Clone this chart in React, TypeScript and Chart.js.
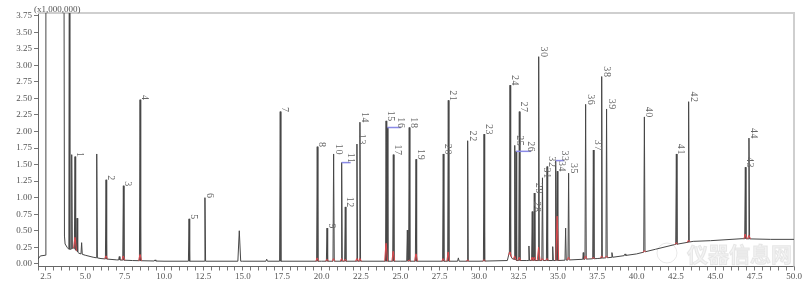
import React, { useEffect, useRef } from "react";
import { Chart, registerables } from "chart.js";

Chart.register(...registerables);

// ---- data (retention time in min, intensity in x1,000,000) ----
const solventTrace: [number, number][] = [
  [2.0, 0.07], [2.15, 0.12], [2.47, 0.13], [2.5, 6.0], [3.64, 6.0], [3.68, 0.42],
  [3.72, 0.3], [3.85, 0.25], [3.96, 0.22], [3.99, 6.0], [4.02, 0.22],
];

const baselineTimes = [4.05, 4.25, 4.6, 5.0, 5.5, 6.0, 7.0, 8.0, 10.0, 15.0, 20.0, 25.0, 30.0, 31.8, 31.92, 32.1, 32.4, 33.0, 35.0, 37.5, 38.5, 40.0, 41.2, 42.4, 43.6, 44.7, 46.7, 48.5, 50.0];
const baselineValues = [0.22, 0.24, 0.16, 0.13, 0.1, 0.08, 0.06, 0.05, 0.04, 0.04, 0.04, 0.04, 0.04, 0.05, 0.17, 0.08, 0.05, 0.05, 0.05, 0.08, 0.1, 0.15, 0.22, 0.29, 0.34, 0.35, 0.38, 0.37, 0.37];

const peakTimes = [4.14, 4.35, 4.48, 4.77, 5.73, 6.32, 7.16, 7.42, 8.48, 9.43, 11.59, 12.6, 14.78, 16.52, 17.38, 19.73, 20.35, 20.77, 21.28, 21.51, 22.25, 22.44, 24.1, 24.18, 24.56, 25.45, 25.57, 26.0, 27.73, 28.05, 28.69, 29.28, 30.32, 31.97, 32.27, 32.35, 32.56, 33.17, 33.38, 33.51, 33.79, 34.03, 34.32, 34.68, 34.87, 34.97, 35.5, 35.69, 36.62, 36.77, 37.26, 37.79, 38.1, 38.44, 39.27, 40.5, 42.53, 43.31, 46.91, 47.14];
const peakHeights = [1.65, 1.62, 0.69, 0.32, 1.66, 1.27, 0.11, 1.18, 2.48, 0.06, 0.68, 1.0, 0.5, 0.07, 2.3, 1.77, 0.54, 1.66, 1.53, 0.86, 1.81, 2.14, 2.16, 2.06, 1.65, 0.51, 2.06, 1.58, 1.66, 2.47, 0.09, 1.86, 1.96, 2.7, 1.79, 1.7, 2.3, 0.27, 0.79, 1.07, 3.13, 1.3, 1.47, 0.26, 1.56, 1.4, 0.54, 1.37, 0.17, 2.41, 1.72, 2.83, 2.34, 0.17, 0.15, 2.22, 1.66, 2.45, 1.46, 1.9];
const peakHalfWidths = [0.04, 0.04, 0.04, 0.04, 0.04, 0.04, 0.04, 0.04, 0.04, 0.05, 0.04, 0.04, 0.09, 0.05, 0.04, 0.04, 0.04, 0.04, 0.04, 0.04, 0.04, 0.04, 0.035, 0.035, 0.04, 0.04, 0.04, 0.04, 0.04, 0.04, 0.05, 0.04, 0.04, 0.04, 0.035, 0.035, 0.04, 0.04, 0.04, 0.04, 0.04, 0.04, 0.04, 0.04, 0.035, 0.035, 0.04, 0.04, 0.03, 0.04, 0.04, 0.04, 0.04, 0.05, 0.05, 0.04, 0.04, 0.04, 0.04, 0.04];
const peakLabels = ["", "1", "", "", "", "2", "", "3", "4", "", "5", "6", "", "", "7", "8", "9", "10", "11", "12", "13", "14", "15", "16", "17", "", "18", "19", "20", "21", "", "22", "23", "24", "25", "26", "27", "", "28", "29", "30", "31", "32", "", "33", "34", "", "35", "", "36", "37", "38", "39", "", "", "40", "41", "42", "43", "44"];
// label offset (min) for bracketed labels
const labelShifts = [0, 0, 0, 0, 0, 0, 0, 0, 0, 0, 0, 0, 0, 0, 0, 0, 0, 0, 0.57, 0, 0, 0, 0, 0.85, 0, 0, 0, 0, 0, 0, 0, 0, 0, 0, 0, 0.95, 0, 0, 0, 0, 0, 0, 0, 0, 0.53, 0, 0, 0, 0, 0, 0, 0, 0, 0, 0, 0, 0, 0, 0, 0];
// top of red integrated area at the peak foot (0 = none)
const redTops = [0, 0.4, 0, 0, 0, 0.12, 0, 0.12, 0.14, 0, 0, 0, 0, 0, 0, 0.09, 0.07, 0.08, 0.08, 0.07, 0.08, 0.08, 0.31, 0, 0.19, 0, 0.06, 0.15, 0.08, 0.18, 0, 0.06, 0.06, 0.18, 0.12, 0, 0.1, 0, 0.1, 0.1, 0.25, 0.08, 0.08, 0, 0, 0.72, 0, 0.1, 0, 0.12, 0.1, 0.12, 0.12, 0, 0, 0.2, 0.32, 0.36, 0.45, 0.43];

const xTickLabels = [2.5, 5.0, 7.5, 10.0, 12.5, 15.0, 17.5, 20.0, 22.5, 25.0, 27.5, 30.0, 32.5, 35.0, 37.5, 40.0, 42.5, 45.0, 47.5, 50.0];
const yTickValues = [0, 0.25, 0.5, 0.75, 1.0, 1.25, 1.5, 1.75, 2.0, 2.25, 2.5, 2.75, 3.0, 3.25, 3.5, 3.75];

function baseAt(t: number): number {
  if (t <= baselineTimes[0]) return baselineValues[0];
  for (let i = 1; i < baselineTimes.length; i++) {
    if (t <= baselineTimes[i]) {
      const t0 = baselineTimes[i - 1], t1 = baselineTimes[i];
      const f = (t - t0) / (t1 - t0);
      return baselineValues[i - 1] + f * (baselineValues[i] - baselineValues[i - 1]);
    }
  }
  return baselineValues[baselineValues.length - 1];
}

function buildTrace() {
  const pts: { x: number; y: number }[] = solventTrace.map(([x, y]) => ({ x, y }));
  const inPeak = (t: number) =>
    peakTimes.some((p, i) => Math.abs(t - p) <= peakHalfWidths[i] + 0.005);
  baselineTimes.forEach((t, i) => {
    if (!inPeak(t)) pts.push({ x: t, y: baselineValues[i] });
  });
  peakTimes.forEach((t, i) => {
    const w = peakHalfWidths[i];
    pts.push({ x: t - w, y: baseAt(t - w) });
    pts.push({ x: t, y: peakHeights[i] });
    pts.push({ x: t + w, y: baseAt(t + w) });
  });
  pts.sort((a, b) => a.x - b.x);
  return pts;
}

function buildRed() {
  const pts: { x: number; y: number | null }[] = [];
  peakTimes.forEach((t, i) => {
    if (!redTops[i]) return;
    const w = 0.09;
    pts.push({ x: t - w, y: baseAt(t - w) });
    pts.push({ x: t - 0.01, y: redTops[i] });
    pts.push({ x: t + 0.01, y: redTops[i] });
    pts.push({ x: t + w, y: baseAt(t + w) });
    pts.push({ x: t + w + 0.01, y: null });
  });
  return pts;
}

const decorPlugin = {
  id: "decor",
  beforeDatasetsDraw(chart: any) {
    const { ctx, chartArea } = chart;
    ctx.save();
    // watermark
    ctx.font = "bold 21px 'Noto Sans CJK SC'";
    ctx.textBaseline = "alphabetic";
    ctx.fillStyle = "rgba(238,238,238,0.7)";
    ctx.strokeStyle = "rgba(218,218,218,0.6)";
    ctx.lineWidth = 1;
    ctx.fillText("仪器信息网", 687, 262);
    ctx.strokeText("仪器信息网", 687, 262);
    ctx.beginPath();
    ctx.arc(667, 253, 10, 0, Math.PI * 2);
    ctx.stroke();
    ctx.restore();
    // frame (top/right)
    ctx.save();
    ctx.strokeStyle = "#cfcfcf";
    ctx.lineWidth = 2;
    ctx.beginPath();
    ctx.moveTo(chartArea.left, chartArea.top);
    ctx.lineTo(chartArea.right, chartArea.top);
    ctx.lineTo(chartArea.right, chartArea.bottom);
    ctx.stroke();
    ctx.restore();
  },
  afterDatasetsDraw(chart: any) {
    const { ctx, scales } = chart;
    const xs = scales.x, ys = scales.y;
    ctx.save();
    ctx.font = "10px 'Liberation Serif'";
    (ctx as any).letterSpacing = "0.6px";
    ctx.fillStyle = "#666";
    peakLabels.forEach((lab, i) => {
      if (!lab) return;
      const t = peakTimes[i];
      const px = xs.getPixelForValue(t);
      const py = ys.getPixelForValue(peakHeights[i]);
      const shift = labelShifts[i];
      let lx = px + 2;
      if (shift) {
        const ex = xs.getPixelForValue(t + shift);
        ctx.save();
        ctx.strokeStyle = "#8a8ae6";
        ctx.lineWidth = 1.5;
        ctx.beginPath();
        ctx.moveTo(px, py);
        ctx.lineTo(ex, py);
        ctx.stroke();
        ctx.restore();
        lx = ex - 2.5;
      }
      ctx.save();
      ctx.translate(lx, py + 1);
      ctx.rotate(Math.PI / 2);
      ctx.textAlign = "right";
      ctx.textBaseline = "alphabetic";
      ctx.fillText(lab, 0, 0);
      ctx.restore();
    });
    (ctx as any).letterSpacing = "0px";
    ctx.font = "9px 'Liberation Serif'";
    ctx.fillStyle = "#555";
    ctx.textAlign = "left";
    ctx.textBaseline = "middle";
    ctx.fillText("(x1,000,000)", 34, 10);
    ctx.restore();
  },
};

export default function App() {
  const ref = useRef<HTMLCanvasElement>(null);
  useEffect(() => {
    document.body.style.margin = "0";
    const canvas = ref.current!;
    const chart = new Chart(canvas, {
      type: "line",
      data: {
        datasets: [
          {
            data: buildRed() as any,
            borderColor: "#e0474c",
            borderWidth: 1,
            pointRadius: 0,
            spanGaps: false,
            tension: 0,
          },
          {
            data: buildTrace() as any,
            borderColor: "#474747",
            borderWidth: 1,
            pointRadius: 0,
            tension: 0,
          },
        ],
      },
      options: {
        animation: false,
        responsive: false,
        devicePixelRatio: 1,
        layout: { padding: { top: 13, right: 16, left: 0, bottom: 0 } },
        plugins: { legend: { display: false }, tooltip: { enabled: false } },
        scales: {
          x: {
            type: "linear",
            min: 2.0,
            max: 50.0,
            afterBuildTicks: (s: any) => {
              const t: any[] = [];
              for (let i = 0; i <= 96; i++) t.push({ value: 2.0 + i * 0.5 });
              s.ticks = t;
            },
            afterFit: (s: any) => { s.height = 22.5; },
            grid: { drawOnChartArea: false, drawTicks: true, tickLength: 4, color: "#777" },
            border: { color: "#666", width: 1 },
            ticks: {
              autoSkip: false,
              maxRotation: 0,
              minRotation: 0,
              padding: 1,
              color: "#555",
              font: { family: "'Liberation Serif', serif", size: 9 },
              callback: (v: any) => {
                const m = xTickLabels.find((l) => Math.abs(l - Number(v)) < 1e-6);
                return m === undefined ? "" : m.toFixed(1);
              },
            },
          },
          y: {
            type: "linear",
            min: -0.04,
            max: 3.79,
            afterBuildTicks: (s: any) => { s.ticks = yTickValues.map((v) => ({ value: v })); },
            afterFit: (s: any) => { s.width = 38; },
            grid: { drawOnChartArea: false, drawTicks: true, tickLength: 4, color: "#777" },
            border: { color: "#666", width: 1 },
            ticks: {
              padding: 2,
              color: "#555",
              font: { family: "'Liberation Serif', serif", size: 9 },
              callback: (v: any) => Number(v).toFixed(2),
            },
          },
        },
      },
      plugins: [decorPlugin],
    });
    return () => chart.destroy();
  }, []);
  return (
    <div style={{ width: 810, height: 289 }}>
      <canvas ref={ref} width={810} height={289} style={{ display: "block" }} />
    </div>
  );
}
